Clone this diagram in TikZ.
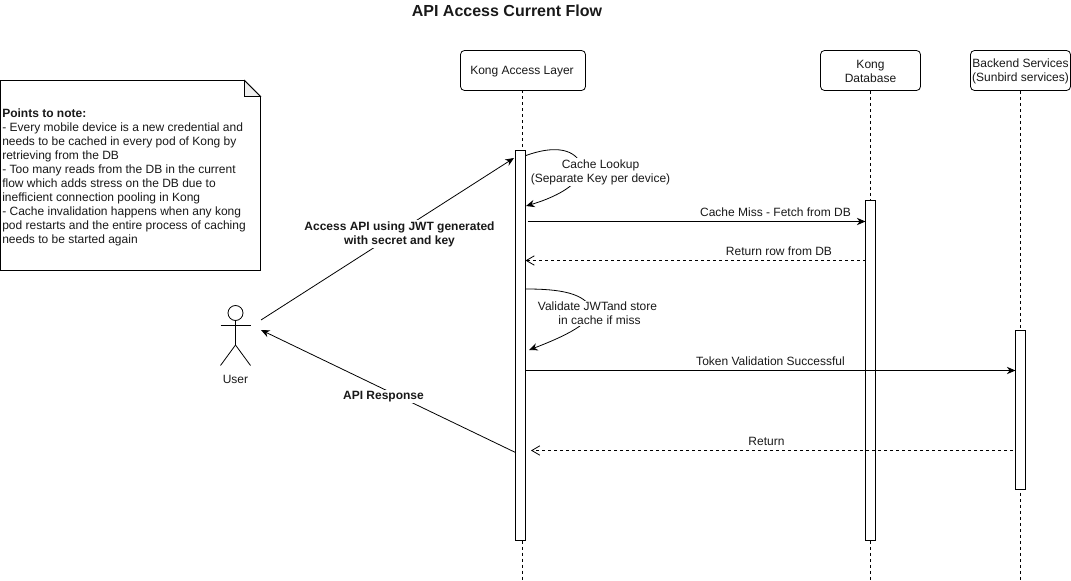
\documentclass[tikz,border=0pt]{standalone}
\usepackage{fontspec}
\setmainfont{Liberation Sans}
\usetikzlibrary{arrows.meta}
\tikzset{
  every node/.style={font=\fontsize{9}{10.5}\selectfont, text=black!90, inner sep=0pt},
  lifebox/.style={draw, rounded corners=3pt, fill=white, minimum width=75pt, minimum height=30pt, line width=0.6pt},
  boxlabel/.style={align=center},
  lifeline/.style={dashed, dash pattern=on 2.25pt off 2.25pt, line width=0.6pt},
  activebar/.style={draw, fill=white, minimum width=7.5pt, line width=0.6pt},
  msg/.style={line width=0.6pt, -{Stealth[length=6.5pt,width=5.5pt]}},
  retmsg/.style={line width=0.6pt, dashed, dash pattern=on 2.25pt off 2.25pt, -{Straight Barb[length=6pt,width=7pt]}},
  plainlabel/.style={align=center},
  cutlabel/.style={align=center, fill=white, inner xsep=1pt, inner ysep=1pt},
  stick/.style={line width=0.6pt}
}
\begin{document}
\begin{tikzpicture}[x=0.75pt,y=-0.75pt]
\useasboundingbox (0,0) rectangle (1071,581);
\node[font=\fontsize{12}{14}\selectfont\bfseries] (title) at (507,11) {API Access Current Flow};

% note
\draw[line width=0.6pt, fill=white] (0.5,80.5) -- (244.5,80.5) -- (260.5,96.5) -- (260.5,270.5) -- (0.5,270.5) -- cycle;
\draw[line width=0.6pt, fill=black!6] (244.5,80.5) -- (244.5,96.5) -- (260.5,96.5) -- cycle;
\node[align=left, anchor=west] (note) at (2,177) {\textbf{Points to note:}\\
- Every mobile device is a new credential and\\
needs to be cached in every pod of Kong by\\
retrieving from the DB\\
- Too many reads from the DB in the current\\
flow which adds stress on the DB due to\\
inefficient connection pooling in Kong\\
- Cache invalidation happens when any kong\\
pod restarts and the entire process of caching\\
needs to be started again};

% participants
\node[lifebox, minimum width=93.75pt] (kong) at (523,70.5) {};
\node[lifebox] (db) at (870.5,70.5) {};
\node[lifebox] (be) at (1020.5,70.5) {};
\node[boxlabel] (kongtext) at ([xshift=-0.75pt,yshift=-0.75pt]kong.center) {Kong Access Layer};
\node[boxlabel] (dbtext) at ([yshift=-0.75pt]db.center) {Kong\\Database};
\node[boxlabel] (betext) at ([yshift=-0.75pt]be.center) {Backend Services\\(Sunbird services)};
\coordinate (kongend) at (522.5,581);
\coordinate (dbend) at (870.5,581);
\coordinate (beend) at (1020.5,581);
\draw[lifeline] (522.5,90.5) -- (kongend);
\draw[lifeline] (db.south) -- (dbend);
\draw[lifeline] (be.south) -- (beend);

% activation bars
\node[activebar, minimum height=292.5pt] (kongbar) at (520.5,345.5) {};
\node[activebar, minimum height=255pt] (dbbar) at (870.5,370.5) {};
\node[activebar, minimum height=119.25pt] (bebar) at (1020.5,410) {};

% actor
\draw[stick] (235.5,313) circle (7.5);
\coordinate (neck) at (235.5,320.5);
\coordinate (hip) at (235.5,345);
\draw[stick] (neck) -- (hip) -- (220.5,365.5);
\draw[stick] (hip) -- (250.5,365.5);
\draw[stick] (220.5,325.5) -- (250.5,325.5);
\node (user) at (235.5,379.5) {User};
\coordinate (userout) at (261,320);
\coordinate (userin) at (261,330);

% user <-> kong
\coordinate (kongin) at (514,158);
\coordinate (kongout) at (515.5,452.5);
\draw[msg] (userout) -- (kongin);
\node[cutlabel, font=\fontsize{9}{10.5}\selectfont\bfseries] (acc) at (399.5,234) {Access API using JWT generated\\with secret and key};
\draw[msg] (kongout) -- (userin);
\node[cutlabel, font=\fontsize{9}{10.5}\selectfont\bfseries] (resp) at (383.5,396.5) {API Response};

% self calls
\coordinate (c1a) at (526,155.5);
\coordinate (c1b) at (526,206);
\draw[msg] (c1a) .. controls (552,146) and (572,148) .. (580,162) .. controls (588,180) and (560,196) .. (c1b);
\node[cutlabel] (lookup) at (600.5,172) {Cache Lookup\\(Separate Key per device)};
\coordinate (c2a) at (526,289);
\coordinate (c2b) at (529,350);
\draw[msg] (c2a) .. controls (560,289) and (585,293) .. (592,310) .. controls (592,325) and (555,340) .. (c2b);
\node[cutlabel] (validate) at (597.5,313.5) {Validate JWTand store\\\hspace{3pt}in cache if miss};

% horizontal messages
\coordinate (m1a) at (527.5,221.5);
\coordinate (m1b) at (865.5,221.5);
\draw[msg] (m1a) -- (m1b);
\node[plainlabel] (m1) at (775.5,212) {Cache Miss - Fetch from DB};
\coordinate (m2a) at (865.5,260.5);
\coordinate (m2b) at (525.5,260.5);
\draw[retmsg] (m2a) -- (m2b);
\node[plainlabel] (m2) at (779,251.5) {Return row from DB};
\coordinate (m3a) at (525.5,370.5);
\coordinate (m3b) at (1015.5,370.5);
\draw[msg] (m3a) -- (m3b);
\node[plainlabel] (m3) at (770.5,361.5) {Token Validation Successful};
\coordinate (m4a) at (1013,450.5);
\coordinate (m4b) at (531,450.5);
\draw[retmsg] (m4a) -- (m4b);
\node[plainlabel] (m4) at (766.5,441.5) {Return};
\end{tikzpicture}
\end{document}
